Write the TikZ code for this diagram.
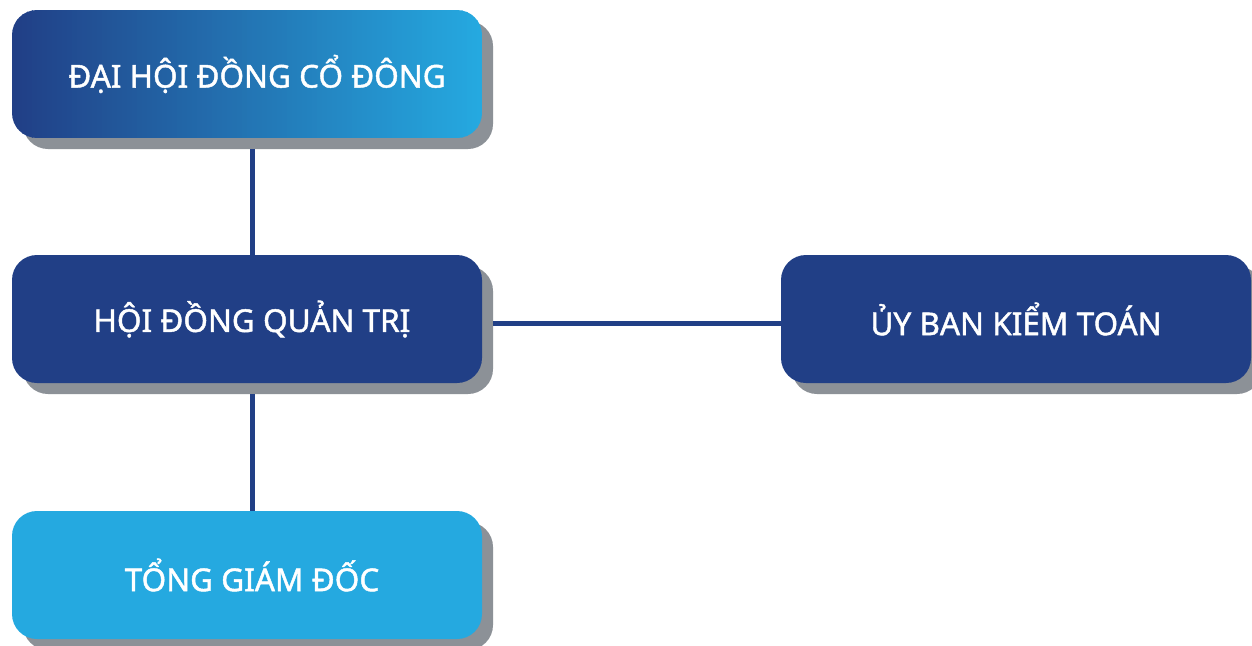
\documentclass[tikz,border=0pt]{standalone}
\usepackage{fontspec}
\setmainfont{Noto Sans}[AutoFakeBold=1.4]
\usetikzlibrary{shadows}
\definecolor{dblue}{HTML}{213F86}
\definecolor{lblue}{HTML}{25A9E0}
\definecolor{shgray}{HTML}{8C9197}
\tikzset{
  boxtext/.style={rounded corners=25pt, minimum width=470pt, minimum height=128pt, inner sep=0pt,
    text=white, font=\fontsize{31.5}{36}\selectfont\bfseries},
  box/.style={boxtext,
    drop shadow={shadow xshift=11pt, shadow yshift=-11pt, fill=shgray, opacity=1, shadow scale=1}},
  link/.style={draw=dblue, line width=5pt}
}
\begin{document}
\begin{tikzpicture}[x=1pt,y=-1pt]
\useasboundingbox (0,0) rectangle (1252,645);
\fill[white] (0,0) rectangle (1252,645);
\fill[shgray, rounded corners=25pt] (23,21) rectangle (493,149);
\begin{scope}
\clip[rounded corners=25pt] (12,10) rectangle (482,138);
\foreach \i in {0,...,93}{
  \pgfmathsetmacro{\p}{\i*100/93}
  \fill[lblue!\p!dblue] ({12+\i*5},10) rectangle ({12+\i*5+6},138);
}
\end{scope}
\node[boxtext] (dh) at (247,74) {\hspace*{20pt}ĐẠI HỘI ĐỒNG CỔ ĐÔNG};
\node[box, fill=dblue] (hd) at (247,319) {\hspace*{10pt}HỘI ĐỒNG QUẢN TRỊ};
\node[box, fill=lblue] (tg) at (247,575) {\hspace*{10pt}TỔNG GIÁM ĐỐC};
\node[box, fill=dblue] (ub) at (1016,319) {ỦY BAN KIỂM TOÁN};
\draw[link] ([xshift=5pt,yshift=-11pt]dh.south) -- ([xshift=5pt]hd.north);
\draw[link] ([xshift=5pt,yshift=-11pt]hd.south) -- ([xshift=5pt]tg.north);
\draw[link] ([xshift=11pt,yshift=-4pt]hd.east) -- ([yshift=-4pt]ub.west);
\end{tikzpicture}
\end{document}
